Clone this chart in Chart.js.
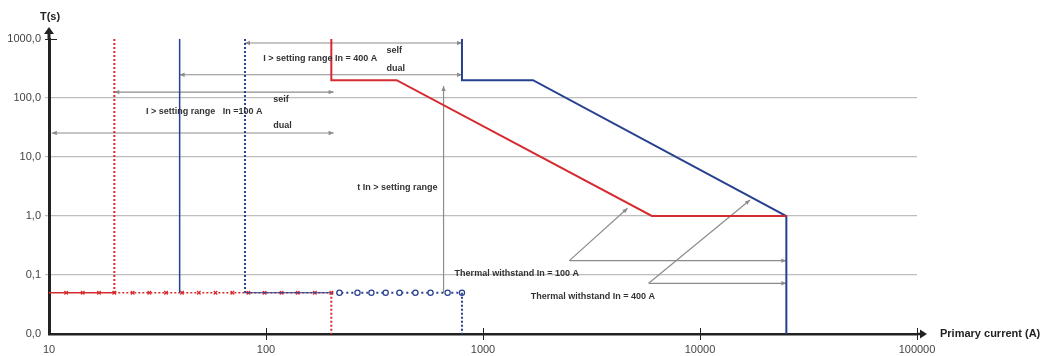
<!DOCTYPE html>
<html>
<head>
<meta charset="utf-8">
<script src="https://cdn.jsdelivr.net/npm/chart.js@4"></script>
<style>
  html, body { margin: 0; padding: 0; background: #fff; }
</style>
</head>
<body>
<canvas id="grafico" width="1045" height="356"></canvas>
<script>
// Escalas (log-log)
const xTicks = [10, 100, 1000, 10000, 100000];
const xTickLabels = ['10', '100', '1000', '10000', '100000'];
const yTicks = [0.01, 0.1, 1, 10, 100, 1000];
const yTickLabels = ['0,0', '0,1', '1,0', '10,0', '100,0', '1000,0'];

// curva tempo-dependente (corrente A / tempo s)
const redCurveI = [200, 200, 400, 6000, 25000];
const redCurveT = [1000, 200, 200, 1, 1];
const blueCurveI = [800, 800, 1700, 25000, 25000];
const blueCurveT = [1000, 200, 200, 1, 0.01];

// limites de ajuste (linhas verticais)
const redMinI = [20, 20];
const blueSolidI = [40, 40];
const blueDotI = [80, 80];
const pickupT = [1000, 0.05];
const redEndI = [200, 200];
const blueEndI = [800, 800];
const bottomT = [0.05, 0.01];

// instantâneo
const instT = 0.05;
const redInstI = [10, 12, 14.3, 17, 20, 24.3, 29, 34.6, 41, 49, 58.5, 70, 83, 98.5, 118, 140, 168, 200];
const blueLinkI = [80, 200];
const blueInstI = [200, 218, 264, 306, 356, 412, 488, 573, 687, 800];

// anotações (setas cinzas)
const arrows = [
  { from: [80, 855], to: [800, 855], both: true },
  { from: [40, 248], to: [800, 248], both: true },
  { from: [20, 126], to: [205, 126], both: true },
  { from: [10.3, 25.5], to: [205, 25.5], both: true },
  { from: [658, 0.05], to: [658, 160] },
  { from: [2500, 0.175], to: [4635, 1.35] },
  { from: [2500, 0.175], to: [25000, 0.175] },
  { from: [5800, 0.0723], to: [17000, 1.87] },
  { from: [5800, 0.0723], to: [25000, 0.0723] }
];
const notes = [
  { t: 'I > setting range In = 400 A', x: 97, y: 458 },
  { t: 'self', x: 359, y: 627 },
  { t: 'dual', x: 359, y: 322 },
  { t: 'seif', x: 108, y: 96 },
  { t: 'I > setting range   In =100 A', x: 28, y: 58 },
  { t: 'dual', x: 108, y: 34.8 },
  { t: 't In > setting range', x: 617, y: 2.99, align: 'right' },
  { t: 'Thermal withstand In = 100 A', x: 740, y: 0.108 },
  { t: 'Thermal withstand In = 400 A', x: 1660, y: 0.0424 }
];

const RED = '#d52b30';
const BLUE = '#26408f';
const GRAY = '#8c8c8c';

function pts(xs, ys) {
  return xs.map((x, i) => ({ x: x, y: Array.isArray(ys) ? ys[i] : ys }));
}

function drawHead(c, x1, y1, x2, y2) {
  const a = Math.atan2(y2 - y1, x2 - x1);
  const L = 5, W = 2.2;
  c.beginPath();
  c.moveTo(x2, y2);
  c.lineTo(x2 - L * Math.cos(a) + W * Math.sin(a), y2 - L * Math.sin(a) - W * Math.cos(a));
  c.lineTo(x2 - L * Math.cos(a) - W * Math.sin(a), y2 - L * Math.sin(a) + W * Math.cos(a));
  c.closePath();
  c.fill();
}

const anotacoes = {
  id: 'anotacoes',
  beforeDatasetsDraw(chart) {
    const c = chart.ctx, sx = chart.scales.x, sy = chart.scales.y;
    c.save();
    c.strokeStyle = GRAY;
    c.fillStyle = GRAY;
    c.lineWidth = 1.2;
    arrows.forEach(a => {
      const x1 = sx.getPixelForValue(a.from[0]), y1 = sy.getPixelForValue(a.from[1]);
      const x2 = sx.getPixelForValue(a.to[0]), y2 = sy.getPixelForValue(a.to[1]);
      c.beginPath();
      c.moveTo(x1, y1);
      c.lineTo(x2, y2);
      c.stroke();
      drawHead(c, x1, y1, x2, y2);
      if (a.both) drawHead(c, x2, y2, x1, y1);
    });
    c.restore();
  },
  afterDatasetsDraw(chart) {
    const c = chart.ctx, sx = chart.scales.x, sy = chart.scales.y;
    c.save();
    c.fillStyle = '#333';
    c.font = 'bold 9px "Liberation Sans", Arial, sans-serif';
    c.textBaseline = 'middle';
    notes.forEach(n => {
      c.textAlign = n.align || 'left';
      c.fillText(n.t, sx.getPixelForValue(n.x), sy.getPixelForValue(n.y));
    });
    c.restore();
  },
  afterDraw(chart) {
    const c = chart.ctx, area = chart.chartArea, sx = chart.scales.x, sy = chart.scales.y;
    c.save();
    c.strokeStyle = '#222';
    c.fillStyle = '#222';
    // eixo Y prolongado + seta
    c.lineWidth = 3;
    c.beginPath();
    c.moveTo(area.left, area.top);
    c.lineTo(area.left, area.top - 6);
    c.stroke();
    c.beginPath();
    c.moveTo(area.left, area.top - 12);
    c.lineTo(area.left - 5, area.top - 5);
    c.lineTo(area.left + 5, area.top - 5);
    c.closePath();
    c.fill();
    // tick 1000
    c.lineWidth = 1;
    const y1000 = Math.round(sy.getPixelForValue(1000)) + 0.5;
    c.beginPath();
    c.moveTo(area.left - 4, y1000);
    c.lineTo(area.left + 8, y1000);
    c.stroke();
    // ticks do eixo X
    xTicks.slice(1).forEach(v => {
      const px = Math.round(sx.getPixelForValue(v)) + 0.5;
      c.beginPath();
      c.moveTo(px, area.bottom - 6);
      c.lineTo(px, area.bottom + 6);
      c.stroke();
    });
    // seta eixo X
    c.lineWidth = 2.5;
    c.beginPath();
    c.moveTo(area.right, area.bottom);
    c.lineTo(area.right + 3, area.bottom);
    c.stroke();
    c.beginPath();
    c.moveTo(area.right + 10, area.bottom);
    c.lineTo(area.right + 3, area.bottom - 4.5);
    c.lineTo(area.right + 3, area.bottom + 4.5);
    c.closePath();
    c.fill();
    // titulos dos eixos
    c.fillStyle = '#222';
    c.font = 'bold 11px "Liberation Sans", Arial, sans-serif';
    c.textBaseline = 'middle';
    c.textAlign = 'left';
    c.fillText('Primary current (A)', area.right + 23, area.bottom);
    c.textAlign = 'center';
    c.fillText('T(s)', area.left + 1, 17);
    c.restore();
  }
};

const ctx = document.getElementById('grafico');

new Chart(ctx, {
  type: 'line',
  data: {
    datasets: [
      { data: pts(redMinI, pickupT), borderColor: RED, borderWidth: 2, borderDash: [2, 2] },
      { data: pts(blueSolidI, pickupT), borderColor: BLUE, borderWidth: 1.5 },
      { data: pts(blueDotI, pickupT), borderColor: BLUE, borderWidth: 2, borderDash: [2, 2] },
      { data: pts(redEndI, bottomT), borderColor: RED, borderWidth: 2, borderDash: [2, 2] },
      { data: pts(blueEndI, bottomT), borderColor: BLUE, borderWidth: 2, borderDash: [2, 2] },
      { data: pts(blueLinkI, instT), borderColor: BLUE, borderWidth: 1 },
      {
        data: pts(redInstI, instT), borderColor: RED, borderWidth: 1.5,
        segment: { borderDash: s => s.p0.parsed.x >= 19 ? [2, 2] : undefined },
        pointStyle: 'crossRot', pointRadius: redInstI.map((v, i) => i === 0 ? 0 : 2.5),
        pointBorderColor: RED, pointBorderWidth: 1.2
      },
      {
        data: pts(blueInstI, instT), borderColor: BLUE, borderWidth: 1.8, borderDash: [2, 3],
        pointStyle: 'circle', pointRadius: blueInstI.map((v, i) => i === 0 ? 0 : 2.6),
        pointBackgroundColor: '#fff', pointBorderColor: BLUE, pointBorderWidth: 1.2
      },
      { data: pts(redCurveI, redCurveT), borderColor: RED, borderWidth: 2 },
      { data: pts(blueCurveI, blueCurveT), borderColor: BLUE, borderWidth: 2 }
    ]
  },
  options: {
    responsive: false,
    animation: false,
    events: [],
    layout: { padding: { top: 39, right: 128, left: 0, bottom: 0 } },
    elements: { point: { radius: 0 }, line: { tension: 0, fill: false } },
    plugins: { legend: { display: false }, tooltip: { enabled: false } },
    scales: {
      x: {
        type: 'logarithmic', min: 10, max: 100000,
        afterBuildTicks: s => { s.ticks = xTicks.map(v => ({ value: v })); },
        afterFit: s => { s.height = 22; },
        ticks: {
          callback: (v, i) => xTickLabels[i], autoSkip: false, maxRotation: 0,
          color: '#444', padding: 9, font: { family: '"Liberation Sans", Arial, sans-serif', size: 11 }
        },
        grid: { drawOnChartArea: false, drawTicks: false },
        border: { color: '#222', width: 2.5 }
      },
      y: {
        type: 'logarithmic', min: 0.01, max: 1000,
        afterBuildTicks: s => { s.ticks = yTicks.map(v => ({ value: v })); },
        afterFit: s => { s.width = 49; },
        ticks: {
          callback: (v, i) => yTickLabels[i], autoSkip: false,
          color: '#444', padding: 4, font: { family: '"Liberation Sans", Arial, sans-serif', size: 11 }
        },
        grid: {
          color: g => (g.tick && (g.tick.value >= 1000 || g.tick.value <= 0.01)) ? 'rgba(0,0,0,0)' : '#bdbdbd',
          tickColor: g => (g.tick && (g.tick.value >= 1000 || g.tick.value <= 0.01)) ? 'rgba(0,0,0,0)' : '#bdbdbd',
          tickLength: 4, lineWidth: 1.2
        },
        border: { color: '#222', width: 3 }
      }
    }
  },
  plugins: [anotacoes]
});
</script>
</body>
</html>
